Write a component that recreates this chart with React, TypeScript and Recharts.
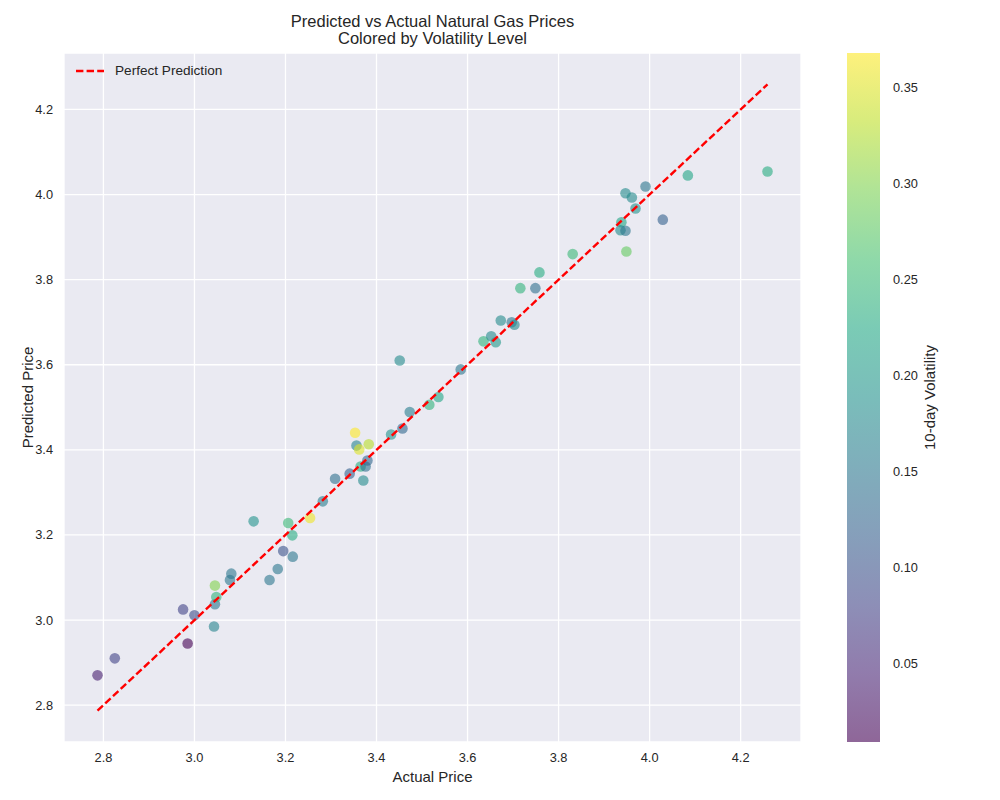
import React from "react";
import {
  ScatterChart,
  Scatter,
  XAxis,
  YAxis,
  CartesianGrid,
  Legend,
  Label,
  ComposedChart,
  ReferenceArea,
} from "recharts";

// values
const actualPrice = [
  2.787, 2.825, 2.975, 3.0, 2.985, 3.043, 3.045, 3.048, 3.045, 3.078, 3.081, 3.13, 3.165, 3.183, 3.195,
  3.216, 3.215, 3.206, 3.254, 3.282, 3.309, 3.341, 3.371, 3.365, 3.376, 3.38, 3.356, 3.362, 3.353, 3.383,
  3.432, 3.457, 3.473, 3.451, 3.516, 3.536, 3.585, 3.635, 3.652, 3.662, 3.673, 3.697, 3.703, 3.716, 3.749,
  3.758, 3.831, 3.949, 3.938, 3.936, 3.947, 3.969, 3.947, 3.961, 3.991, 4.029, 4.084, 4.259,
];
const predictedPrice = [
  2.87, 2.91, 3.025, 3.011, 2.945, 2.985, 3.037, 3.054, 3.081, 3.094, 3.109, 3.232, 3.094, 3.12, 3.162,
  3.149, 3.199, 3.228, 3.24, 3.279, 3.332, 3.344, 3.328, 3.361, 3.361, 3.375, 3.41, 3.401, 3.44, 3.413,
  3.436, 3.45, 3.489, 3.61, 3.506, 3.524, 3.589, 3.655, 3.667, 3.653, 3.704, 3.7, 3.694, 3.78, 3.78,
  3.817, 3.86, 3.866, 3.935, 3.916, 3.915, 3.967, 4.003, 3.993, 4.019, 3.941, 4.045, 4.054,
];
const volatility = [
  0.04, 0.08, 0.08, 0.09, 0.009, 0.17, 0.15, 0.24, 0.3, 0.15, 0.15, 0.19, 0.15, 0.15, 0.1,
  0.15, 0.23, 0.25, 0.36, 0.16, 0.14, 0.12, 0.18, 0.23, 0.14, 0.13, 0.17, 0.35, 0.368, 0.33,
  0.19, 0.13, 0.16, 0.18, 0.24, 0.22, 0.15, 0.24, 0.18, 0.2, 0.18, 0.15, 0.18, 0.24, 0.14,
  0.23, 0.25, 0.28, 0.22, 0.18, 0.15, 0.19, 0.18, 0.18, 0.15, 0.12, 0.22, 0.23,
];
const priceTicks = [2.8, 3.0, 3.2, 3.4, 3.6, 3.8, 4.0, 4.2];
const volTicks = [0.05, 0.1, 0.15, 0.2, 0.25, 0.3, 0.35];

const VIRIDIS = [
  "#440154", "#482475", "#414487", "#355f8d", "#2a788e", "#21918c",
  "#22a884", "#44bf70", "#7ad151", "#bddf26", "#fde725",
];

const TEXT = "#262626";
const FONT = "'Liberation Sans', Arial, sans-serif";

function hexToRgb(h: string) {
  return [parseInt(h.slice(1, 3), 16), parseInt(h.slice(3, 5), 16), parseInt(h.slice(5, 7), 16)];
}

function viridis(t: number) {
  const c = Math.max(0, Math.min(1, t)) * (VIRIDIS.length - 1);
  const i = Math.min(Math.floor(c), VIRIDIS.length - 2);
  const f = c - i;
  const a = hexToRgb(VIRIDIS[i]);
  const b = hexToRgb(VIRIDIS[i + 1]);
  const rgb = a.map((v, k) => Math.round(v + (b[k] - v) * f));
  return `rgb(${rgb[0]},${rgb[1]},${rgb[2]})`;
}

const volMin = Math.min(...volatility);
const volMax = Math.max(...volatility);

const points = actualPrice.map((x, i) => ({
  x,
  y: predictedPrice[i],
  color: viridis((volatility[i] - volMin) / (volMax - volMin)),
}));

const lineLo = Math.min(...actualPrice);
const lineHi = Math.max(...actualPrice);
const lineData = [
  { x: lineLo, y: lineLo },
  { x: lineHi, y: lineHi },
];

// matplotlib-like 5% margins
const xLo = Math.min(...actualPrice);
const xHi = Math.max(...actualPrice);
const xPad = (xHi - xLo) * 0.05;
const yLo = Math.min(lineLo, ...predictedPrice);
const yHi = Math.max(lineHi, ...predictedPrice);
const yPad = (yHi - yLo) * 0.05;

const tickStyle = { fontSize: 12.8, fill: TEXT, fontFamily: FONT };

const Dot = (props: any) => (
  <circle cx={props.cx} cy={props.cy} r={5.3} fill={props.payload.color} fillOpacity={0.6} />
);

const LegendBox = () => (
  <div style={{ display: "flex", alignItems: "center", fontFamily: FONT, fontSize: 13.6, color: TEXT }}>
    <svg width={28} height={10}>
      <line x1={0} y1={5} x2={28} y2={5} stroke="#ff0000" strokeWidth={2.4} strokeDasharray="7.4 3.2" />
    </svg>
    <span style={{ marginLeft: 11 }}>Perfect Prediction</span>
  </div>
);

export default function App() {
  return (
    <div style={{ position: "absolute", left: 0, top: 0, width: 1000, height: 800, background: "#fff", fontFamily: FONT }}>
      <svg width={0} height={0} style={{ position: "absolute" }}>
        <defs>
          <linearGradient id="viridisBar" x1="0" y1="1" x2="0" y2="0">
            {VIRIDIS.map((c, i) => (
              <stop key={c} offset={i / (VIRIDIS.length - 1)} stopColor={c} stopOpacity={0.6} />
            ))}
          </linearGradient>
        </defs>
      </svg>

      <svg width={1000} height={52} style={{ position: "absolute", left: 0, top: 0 }}>
        <text x={432.5} y={26.8} textAnchor="middle" fontSize={16.5} fill={TEXT}>
          Predicted vs Actual Natural Gas Prices
        </text>
        <text x={432.5} y={44} textAnchor="middle" fontSize={16.5} fill={TEXT}>
          Colored by Volatility Level
        </text>
      </svg>

      <div style={{ position: "absolute", left: 0, top: 0 }}>
        <ScatterChart width={1000} height={800} margin={{ top: 53, right: 199, bottom: 0, left: 0 }}>
          <CartesianGrid fill="#EAEAF2" stroke="#FFFFFF" strokeWidth={1.3} />
          <XAxis
            type="number"
            dataKey="x"
            domain={[xLo - xPad, xHi + xPad]}
            ticks={priceTicks}
            tickFormatter={(v: number) => v.toFixed(1)}
            allowDataOverflow
            height={58}
            axisLine={false}
            tickLine={false}
            tickSize={0}
            tickMargin={11}
            tick={tickStyle}
          >
            <Label value="Actual Price" position="insideBottom" offset={17.7} style={{ fontSize: 15, fill: TEXT }} />
          </XAxis>
          <YAxis
            type="number"
            dataKey="y"
            domain={[yLo - yPad, yHi + yPad]}
            ticks={priceTicks}
            tickFormatter={(v: number) => v.toFixed(1)}
            allowDataOverflow
            width={64}
            axisLine={false}
            tickLine={false}
            tickSize={0}
            tickMargin={11}
            tick={tickStyle}
          >
            <Label
              value="Predicted Price"
              angle={-90}
              position="insideLeft"
              offset={28}
              style={{ fontSize: 15, fill: TEXT, textAnchor: "middle" }}
            />
          </YAxis>
          <Scatter data={points} shape={Dot} isAnimationActive={false} legendType="none" />
          <Scatter
            data={lineData}
            fill="#ff0000"
            line={{ stroke: "#ff0000", strokeWidth: 2.4, strokeDasharray: "7.4 3.2" }}
            shape={() => <g />}
            isAnimationActive={false}
            legendType="none"
          />
          <Legend
            layout="horizontal"
            verticalAlign="middle"
            align="center"
            content={() => <LegendBox />}
            wrapperStyle={{ position: "absolute", left: 76, top: 63, width: "auto", height: "auto" }}
          />
        </ScatterChart>
      </div>

      <div style={{ position: "absolute", left: 847, top: 0 }}>
        <ComposedChart
          width={153}
          height={800}
          data={[{ x: 0 }, { x: 1 }]}
          margin={{ top: 53, right: 0, bottom: 58, left: 0 }}
        >
          <XAxis type="number" dataKey="x" domain={[0, 1]} hide />
          <YAxis
            orientation="right"
            type="number"
            domain={[volMin, volMax]}
            ticks={volTicks}
            tickFormatter={(v: number) => v.toFixed(2)}
            allowDataOverflow
            width={120}
            axisLine={false}
            tickLine={false}
            tickSize={0}
            tickMargin={13}
            tick={tickStyle}
          >
            <Label
              value="10-day Volatility"
              angle={-90}
              position="insideLeft"
              offset={50}
              style={{ fontSize: 15, fill: TEXT, textAnchor: "middle" }}
            />
          </YAxis>
          <ReferenceArea
            x1={0}
            x2={1}
            y1={volMin}
            y2={volMax}
            fill="url(#viridisBar)"
            fillOpacity={1}
            stroke="none"
            ifOverflow="visible"
          />
        </ComposedChart>
      </div>
    </div>
  );
}
